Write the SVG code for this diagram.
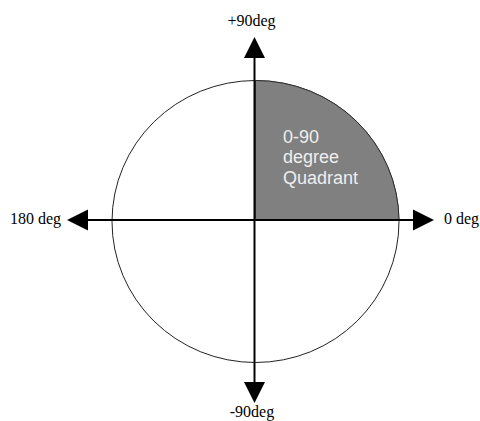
<svg xmlns="http://www.w3.org/2000/svg" width="480" height="421" viewBox="0 0 480 421">
<style>
.lbl{font-family:"Liberation Serif","Times New Roman",serif;font-size:16px;fill:#000}
.q{font-family:"Liberation Sans",Arial,sans-serif;font-size:18px;fill:#eeeeee}
.ax{stroke:#000;stroke-width:2;fill:none}
.ah{fill:#000}
</style>
<rect width="480" height="421" fill="#fff"/>
<g id="circle">
<ellipse cx="255.5" cy="221.5" rx="143.5" ry="141" fill="#fff" stroke="#222" stroke-width="1"/>
</g>
<g id="quadrant">
<path d="M255.5,220 V80.5 A143.5 141 0 0 1 399,220 Z" fill="#808080" stroke="#222" stroke-width="0.8"/>
<text class="q" x="283" y="143">0-90</text>
<text class="q" x="283" y="163">degree</text>
<text class="q" x="283" y="184">Quadrant</text>
</g>
<g id="connectors">
<line class="ax" x1="254.5" y1="56" x2="254.5" y2="384"/>
<line class="ax" x1="87" y1="220" x2="414" y2="220"/>
<polygon class="ah" points="254.5,37 244,58 265,58"/>
<polygon class="ah" points="254.5,403 244,382 265,382"/>
<polygon class="ah" points="67,220 88,209.5 88,230.5"/>
<polygon class="ah" points="434,220 413,209.5 413,230.5"/>
</g>
<g id="label-90">
<text class="lbl" x="251.5" y="26" text-anchor="middle">+90deg</text>
</g>
<g id="label-180">
<text class="lbl" x="10" y="224">180 deg</text>
</g>
<g id="label-0">
<text class="lbl" x="444" y="224">0 deg</text>
</g>
<g id="label-neg90">
<text class="lbl" x="252" y="417" text-anchor="middle">-90deg</text>
</g>
</svg>
